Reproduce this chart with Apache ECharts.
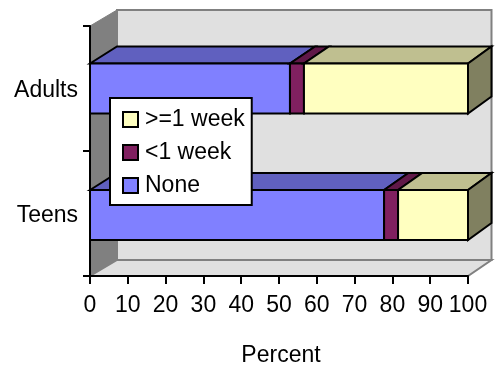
<!DOCTYPE html>
<html>
<head>
<meta charset="utf-8">
<style>
  html, body { margin: 0; padding: 0; background: #fff; }
  #chart { width: 495px; height: 367px; }
</style>
<script src="https://cdn.jsdelivr.net/npm/echarts@6/dist/echarts.min.js"></script>
</head>
<body>
<div id="chart"></div>
<script>
var categories = ['Teens', 'Adults'];
var none = [77.8, 52.9];
var lessWeek = [3.7, 3.7];
var week = [18.5, 43.4];
var xTicks = [0, 100, 10];
var seriesNames = ['None', '<1 week', '>=1 week'];

var font = '"Liberation Sans", Arial, sans-serif';
var fontSize = 23;
var lineW = 2;
var barHeight = 50;
var barShift = [1.5, 0];   // bars are not quite centred in their band in the original

// front, top and side colours of each stack part
var faces = {
    'None': ['#8080FF', '#6060BF'],
    '<1 week': ['#802060', '#601848'],
    '>=1 week': ['#FFFFC0', '#BFBF90']
};
var sideColor = '#808060';

// oblique projection: front plane -> back plane
var depthY = 17;
function backX(x, cs) {
    return x + 27 - 3.5 * (x - cs.x) / cs.width;
}

function poly(points, fill, stroke, width) {
    return {
        type: 'polygon',
        shape: { points: points },
        style: { fill: fill, stroke: stroke || '#000', lineWidth: width === undefined ? lineW : width, lineJoin: 'miter' }
    };
}

function renderWalls(params, api) {
    var cs = params.coordSys;
    var l = cs.x, r = cs.x + cs.width, t = cs.y, b = cs.y + cs.height;
    var bl = backX(l, cs), br = backX(r, cs);
    return {
        type: 'group',
        children: [
            poly([[bl, t - 16], [br, t - 16], [br, b - 16], [bl, b - 16]], '#E0E0E0', '#808080', lineW),
            poly([[l, t], [bl, t - 16], [bl, b - 16], [l, b]], '#808080', '#808080', 1),
            poly([[l, b], [bl, b - 16], [br, b - 16], [r, b]], '#E0E0E0', '#808080', lineW)
        ]
    };
}

function renderPart(name, isLast) {
    return function (params, api) {
        var cs = params.coordSys;
        var i = api.value(2);
        var a = api.coord([api.value(0), i]);
        var b = api.coord([api.value(1), i]);
        var top = a[1] - barHeight / 2 + barShift[i];
        var bottom = top + barHeight;
        var x0 = a[0], x1 = b[0];
        var bx0 = backX(x0, cs), bx1 = backX(x1, cs);
        var children = [
            poly([[x0, top], [bx0, top - depthY], [bx1, top - depthY], [x1, top]], faces[name][1]),
            poly([[x0, top], [x1, top], [x1, bottom], [x0, bottom]], faces[name][0])
        ];
        if (isLast) {
            children.push(poly([[x1, top], [bx1, top - depthY], [bx1, bottom - depthY], [x1, bottom]], sideColor));
        }
        return { type: 'group', children: children };
    };
}

function partData(values, starts) {
    return values.map(function (v, i) {
        return [starts[i], starts[i] + v, i];
    });
}

var start2 = none;
var start3 = none.map(function (v, i) { return v + lessWeek[i]; });

var chart = echarts.init(document.getElementById('chart'), null, { renderer: 'canvas' });
chart.setOption({
    animation: false,
    backgroundColor: '#fff',
    textStyle: { fontFamily: font },
    grid: { left: 90, right: 27, top: 26, bottom: 91, containLabel: false, outerBoundsMode: 'none' },
    legend: {
        orient: 'vertical',
        left: 110,
        top: 98,
        padding: [10, 7, 8, 12],
        itemWidth: 15,
        itemHeight: 15,
        itemGap: 10,
        backgroundColor: '#fff',
        borderColor: '#000',
        borderWidth: lineW,
        borderRadius: 0,
        selectedMode: false,
        z: 10,
        textStyle: { fontFamily: font, fontSize: fontSize, color: '#000', padding: [0, 0, 0, 2] },
        data: [
            { name: '>=1 week', icon: 'rect', itemStyle: { color: '#FFFFC0', borderColor: '#000', borderWidth: lineW } },
            { name: '<1 week', icon: 'rect', itemStyle: { color: '#802060', borderColor: '#000', borderWidth: lineW } },
            { name: 'None', icon: 'rect', itemStyle: { color: '#8080FF', borderColor: '#000', borderWidth: lineW } }
        ]
    },
    xAxis: {
        type: 'value',
        min: xTicks[0],
        max: xTicks[1],
        interval: xTicks[2],
        z: 5,
        name: 'Percent',
        nameLocation: 'middle',
        nameGap: 68,
        nameTextStyle: { fontFamily: font, fontSize: fontSize, color: '#000', padding: [0, 0, 0, 4] },
        axisLine: { show: true, lineStyle: { color: '#000', width: lineW } },
        axisTick: { show: true, length: 8, lineStyle: { color: '#000', width: lineW } },
        axisLabel: { margin: 18, fontFamily: font, fontSize: fontSize, color: '#000', hideOverlap: false, showMinLabel: true, showMaxLabel: true },
        splitLine: { show: false }
    },
    yAxis: {
        type: 'category',
        data: categories,
        z: 5,
        axisLine: { show: true, lineStyle: { color: '#000', width: lineW } },
        axisTick: { show: true, length: 7, lineStyle: { color: '#000', width: lineW } },
        axisLabel: {
            margin: 12,
            formatter: '{v|{value}}',
            rich: { v: { fontFamily: font, fontSize: fontSize, color: '#000', padding: [4, 0, 0, 0] } }
        },
        splitLine: { show: false }
    },
    series: [
        { type: 'custom', silent: true, renderItem: renderWalls, data: [[0, 0, 0]], encode: { x: 0, y: 2 }, clip: false, z: 1 },
        { type: 'custom', name: seriesNames[0], renderItem: renderPart(seriesNames[0], false), data: partData(none, [0, 0]), encode: { x: [0, 1], y: 2 }, clip: false, z: 2 },
        { type: 'custom', name: seriesNames[1], renderItem: renderPart(seriesNames[1], false), data: partData(lessWeek, start2), encode: { x: [0, 1], y: 2 }, clip: false, z: 3 },
        { type: 'custom', name: seriesNames[2], renderItem: renderPart(seriesNames[2], true), data: partData(week, start3), encode: { x: [0, 1], y: 2 }, clip: false, z: 4 }
    ]
});
</script>
</body>
</html>
